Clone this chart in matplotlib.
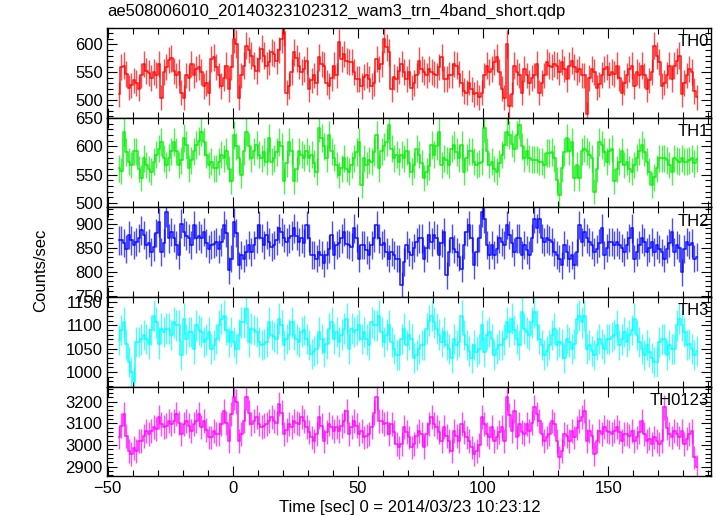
import numpy as np
import matplotlib
matplotlib.use("Agg")
import matplotlib.pyplot as plt
from matplotlib.ticker import MultipleLocator

plt.rcParams['font.family'] = ['Liberation Sans', 'DejaVu Sans']

# light curves, 1 s bins, first bin centred at t = -45.5 s
t_start = -45.5

th0_rate = [510, 560, 562, 547, 522, 526, 535, 530, 520, 544, 565, 552, 548, 540, 550, 545, 565, 504, 550,
            560, 572, 575, 552, 544, 550, 513, 504, 544, 540, 565, 544, 556, 560, 550, 525, 530, 513,
            574, 577, 560, 544, 525, 540, 562, 519, 560, 610, 601, 504, 544, 562, 598, 590, 580, 562, 553,
            574, 592, 580, 562, 568, 586, 583, 570, 590, 610, 622, 513, 525, 550, 586, 575, 562, 550, 556,
            571, 519, 535, 544, 531, 577, 565, 562, 531, 525, 540, 562, 544, 604, 574, 583, 570, 568, 568,
            550, 538, 538, 525, 541, 545, 538, 525, 530, 574, 556, 565, 610, 595, 586, 519, 541, 538,
            553, 565, 550, 538, 550, 522, 530, 544, 571, 555, 550, 544, 556, 550, 547, 544, 560, 577, 538,
            538, 545, 544, 565, 562, 547, 530, 516, 513, 531, 519, 510, 513, 505, 513, 544, 562, 550,
            556, 568, 577, 550, 520, 504, 601, 489, 510, 562, 550, 544, 513, 556, 544, 531, 540, 544, 565,
            513, 530, 544, 568, 562, 560, 565, 562, 550, 568, 555, 538, 562, 571, 560, 550, 556, 544,
            544, 474, 540, 556, 550, 522, 528, 545, 556, 559, 545, 550, 547, 562, 540, 513, 531, 544, 555,
            562, 525, 550, 545, 562, 544, 519, 535, 550, 598, 580, 568, 525, 531, 545, 562, 538, 562, 570,
            580, 510, 530, 544, 556, 550, 516, 505]

th1_rate = [561, 556, 626, 590, 573, 567, 591, 591, 560, 544, 579, 567, 560, 555, 573, 585, 596, 608, 579,
            567, 580, 591, 608, 591, 567, 575, 614, 602, 561, 575, 591, 602, 610, 626, 608, 585, 567,
            573, 561, 561, 573, 585, 579, 591, 560, 538, 620, 600, 579, 549, 591, 626, 600, 579, 591, 602,
            585, 579, 590, 573, 614, 573, 579, 590, 608, 600, 538, 570, 608, 591, 538, 560, 591, 585, 580,
            591, 579, 585, 570, 555, 632, 614, 600, 579, 620, 591, 580, 567, 549, 561, 579, 560, 555, 567,
            579, 590, 608, 532, 579, 567, 575, 573, 590, 620, 561, 591, 600, 608, 638, 596, 579, 585,
            573, 585, 579, 591, 570, 555, 567, 596, 585, 570, 544, 555, 565, 602, 585, 600, 626, 567, 579,
            575, 567, 596, 602, 590, 579, 602, 555, 580, 591, 591, 573, 567, 570, 573, 632, 591, 567,
            573, 560, 555, 570, 585, 602, 626, 620, 605, 596, 620, 638, 600, 579, 591, 579, 576, 576, 576,
            573, 573, 567, 588, 588, 590, 579, 540, 514, 561, 590, 614, 591, 608, 544, 567, 544, 591,
            596, 591, 585, 579, 520, 560, 608, 602, 590, 573, 591, 596, 538, 560, 573, 591, 567, 573, 560,
            555, 567, 580, 591, 602, 590, 573, 555, 532, 545, 561, 579, 579, 579, 575, 567, 555, 579, 575,
            573, 579, 573, 573, 575, 579, 570, 578]

th2_rate = [865, 865, 860, 848, 876, 865, 855, 862, 870, 886, 876, 855, 860, 841, 851, 880, 903, 841, 860,
            924, 869, 883, 870, 855, 834, 900, 883, 875, 869, 855, 897, 869, 875, 869, 883, 860, 848,
            855, 858, 862, 848, 862, 897, 880, 803, 827, 903, 880, 813, 834, 827, 840, 855, 841, 855, 869,
            897, 870, 855, 876, 862, 851, 855, 865, 890, 883, 870, 862, 869, 875, 890, 875, 862, 869, 860,
            897, 870, 834, 834, 827, 840, 834, 817, 835, 848, 876, 834, 855, 860, 869, 883, 858, 855, 851,
            890, 870, 827, 855, 855, 845, 834, 855, 870, 897, 869, 855, 860, 841, 827, 841, 835, 827,
            827, 772, 820, 855, 841, 834, 850, 862, 869, 869, 827, 850, 876, 862, 876, 869, 834, 860, 883,
            792, 840, 869, 848, 841, 830, 806, 855, 883, 897, 870, 813, 841, 870, 924, 910, 855, 834,
            855, 834, 848, 869, 862, 855, 897, 876, 860, 841, 869, 869, 834, 855, 845, 834, 870, 910, 890,
            910, 869, 862, 869, 865, 862, 841, 835, 827, 813, 855, 840, 827, 834, 813, 840, 897, 862,
            883, 869, 862, 855, 841, 848, 860, 890, 834, 850, 862, 862, 855, 862, 855, 850, 841, 855, 870,
            890, 827, 841, 855, 869, 862, 841, 850, 862, 841, 855, 848, 840, 827, 848, 860, 883, 841, 855,
            850, 799, 848, 862, 855, 860, 827, 830]

th3_rate = [1068, 1090, 1107, 1060, 1021, 1000, 979, 1064, 1064, 1070, 1079, 1071, 1061, 1090, 1121, 1107,
            1061, 1093, 1086, 1093, 1093, 1079, 1107, 1100, 1100, 1036, 1114, 1071, 1086, 1086, 1050, 1100,
            1090, 1086, 1064, 1070, 1086,
            1050, 1057, 1071, 1100, 1114, 1121, 1090, 1064, 1086, 1064, 1050, 1080, 1107, 1107, 1136, 1064,
            1093, 1090, 1086, 1064, 1057, 1060, 1064, 1107, 1079, 1075, 1071, 1114, 1100, 1057, 1071, 1080,
            1107, 1079, 1070, 1064, 1086, 1090,
            1071, 1057, 1039, 1045, 1050, 1086, 1071, 1043, 1060, 1093, 1107, 1071, 1086, 1064, 1080, 1093,
            1114, 1050, 1093, 1086, 1090, 1100, 1071, 1086, 1070, 1057, 1107, 1100, 1100, 1121, 1086, 1064,
            1080, 1100, 1064, 1050, 1036,
            1036, 1071, 1093, 1057, 1079, 1070, 1029, 1036, 1050, 1057, 1057, 1093, 1110, 1121, 1107, 1093,
            1080, 1064, 1086, 1057, 1050, 1029, 1071, 1057, 1064, 1121, 1079, 1057, 1045, 1029, 1057, 1043,
            1050, 1100, 1043, 1079, 1086,
            1071, 1036, 1050, 1057, 1057, 1070, 1107, 1086, 1114, 1090, 1071, 1057, 1129, 1093, 1085, 1079,
            1107, 1129, 1100, 1071, 1057, 1036, 1045, 1057, 1079, 1093, 1057, 1064, 1060, 1029, 1071, 1064,
            1050, 1060, 1114, 1121, 1107,
            1121, 1050, 1057, 1045, 1036, 1057, 1071, 1060, 1050, 1071, 1071, 1075, 1079, 1100, 1057, 1070,
            1086, 1064, 1079, 1090, 1114, 1079, 1064, 1050, 1036, 1057, 1043, 1030, 1021, 1021, 1064, 1071,
            1071, 1036, 1057, 1050, 1050, 1100, 1114, 1100, 1086, 1057, 1060, 1050, 1036, 1045]

th0123_rate = [3035, 3090, 3143, 3040, 2974, 2958, 2985, 2974, 3020, 3020, 3040, 3066, 3051, 3066, 3082,
               3075, 3128, 3097, 3082, 3090, 3112, 3097, 3112, 3143, 3100, 3051, 3097, 3112, 3090, 3066,
               3097, 3110, 3143, 3082, 3112, 3070, 3035,
               3035, 3066, 3051, 3051, 3097, 3158, 3100, 3020, 3143, 3220, 3200, 3020, 3051, 3112, 3220,
               3150, 3097, 3112, 3128, 3097, 3082, 3090, 3097, 3112, 3128, 3112, 3100, 3189, 3150, 3051,
               3070, 3097, 3082, 3112, 3100, 3097, 3128, 3110,
               3082, 3060, 3035, 3020, 3051, 3128, 3090, 3020, 3060, 3097, 3082, 3066, 3082, 3066, 3090,
               3112, 3158, 3051, 3082, 3112, 3090, 3051, 3066, 3035, 3040, 3051, 3082, 3150, 3220, 3112,
               3112, 3097, 3100, 3051, 3097, 3060, 3005,
               2989, 3005, 3082, 3060, 3035, 2989, 3005, 3040, 3066, 3051, 2989, 3050, 3097, 3128, 3097,
               3082, 3060, 3020, 3082, 3040, 3020, 2974, 3066, 3040, 3020, 3097, 3060, 3035, 3020, 2989,
               2958, 2974, 3000, 3128, 3097, 3051, 3035,
               3082, 3020, 3035, 3060, 3082, 3020, 3220, 3140, 3066, 3158, 3035, 3097, 3060, 3051, 3097,
               3066, 3100, 3174, 3143, 3112, 3051, 3020, 3035, 3051, 3112, 3097, 3020, 2943, 2974, 3051,
               3040, 3020, 3066, 3035, 3080, 3112, 3128,
               3158, 3020, 3066, 3040, 2958, 3020, 3066, 3051, 3082, 3066, 3060, 3051, 3066, 3082, 3060,
               3020, 3051, 3051, 3040, 3066, 3020, 3035, 3060, 3112, 3051, 3020, 3030, 3005, 3035, 3020,
               3005, 3020, 3174, 3080, 3051, 3035, 3066, 3050, 3035, 3066, 3005, 3030, 3051, 3066, 2943,
               2900]

names = ['TH0', 'TH1', 'TH2', 'TH3', 'TH0123']
colors = ['#ff0000', '#00ee00', '#0000ff', '#00ffff', '#ff00ff']
ylims = [(468, 630), (492, 651), (747, 934), (968, 1161), (2855, 3269)]
major_step = [50, 50, 50, 50, 100]
minor_step = [10, 10, 10, 10, 20]
rates = [th0_rate, th1_rate, th2_rate, th3_rate, th0123_rate]

fig, axes = plt.subplots(5, 1, sharex=True, figsize=(7.17, 5.16), dpi=100)
fig.subplots_adjust(left=0.149, right=0.992, top=0.946, bottom=0.0766, hspace=0)

for i, ax in enumerate(axes):
    rate = np.array(rates[i], dtype=float)
    t = t_start + np.arange(len(rate))
    err = np.sqrt(rate)  # counting error for 1 s bins
    ax.errorbar(t, rate, yerr=err, fmt='none', ecolor=colors[i], elinewidth=1, alpha=0.7)
    ax.step(t, rate, where='mid', color=colors[i], lw=1.2, alpha=0.85)
    ax.set_ylim(*ylims[i])
    ax.set_xlim(-50.3, 191.2)
    ax.yaxis.set_major_locator(MultipleLocator(major_step[i]))
    ax.yaxis.set_minor_locator(MultipleLocator(minor_step[i]))
    ax.xaxis.set_major_locator(MultipleLocator(50))
    ax.xaxis.set_minor_locator(MultipleLocator(10))
    ax.tick_params(which='both', direction='in', top=True, right=True, labelsize=12, pad=3)
    ax.tick_params(which='major', length=7, width=0.8)
    ax.tick_params(which='minor', length=4, width=0.8)
    for sp in ax.spines.values():
        sp.set_linewidth(1.0)
    ax.text(0.996, 0.93, names[i], transform=ax.transAxes, ha='right', va='top', fontsize=12)

fig.text(0.149, 0.963, 'ae508006010_20140323102312_wam3_trn_4band_short.qdp',
         ha='left', va='bottom', fontsize=12)
fig.text(0.056, 0.477, 'Counts/sec', rotation=90, ha='center', va='center', fontsize=12)
fig.text(0.572, 0.017, 'Time [sec] 0 = 2014/03/23 10:23:12', ha='center', va='center', fontsize=12)

fig.savefig('out.png', dpi=100)
